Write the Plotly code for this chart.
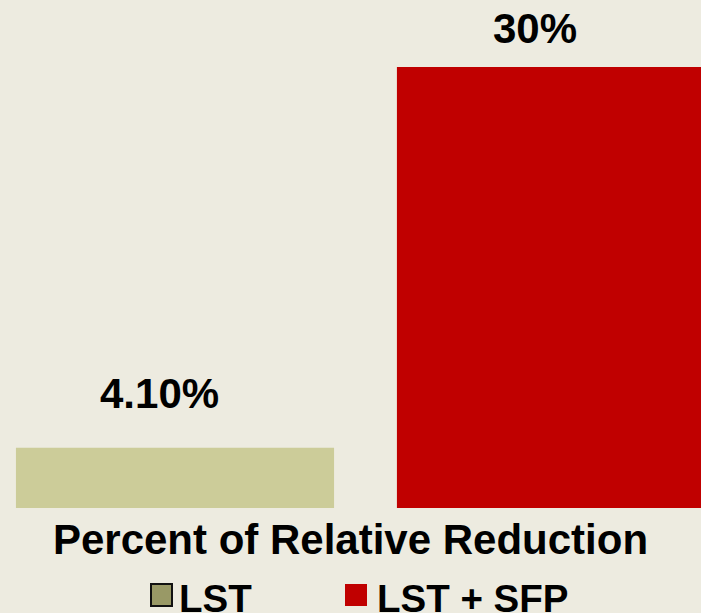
import plotly.graph_objects as go

# Relative reduction by treatment group (percent)
categories = ["LST", "LST + SFP"]
reduction = [4.1, 30.0]
value_labels = ["4.10%", "30%"]

bar_colors = ["#CCCC99", "#C00000"]
legend_colors = ["#999966", "#C00000"]
legend_borders = ["#111111", "#C00000"]
label_offsets = [54, 39]    # pixels above bar top for each value label
label_xshifts = [-15, -21]  # labels sit a little left of bar centres

BG = "#EDEBE0"
FONT = "Arial, Liberation Sans, sans-serif"

W, H = 701, 613
PLOT_H = 508  # plot area height in pixels (bottom margin holds title and key)

fig = go.Figure()

fig.add_trace(go.Bar(
    x=categories,
    y=reduction,
    marker=dict(color=bar_colors, line=dict(width=0)),
    width=0.835,
    showlegend=False,
    hoverinfo="skip",
))

for cat, val, txt, off, dx in zip(categories, reduction, value_labels,
                                  label_offsets, label_xshifts):
    fig.add_annotation(
        x=cat, y=val, text=f"<b>{txt}</b>", showarrow=False,
        yanchor="middle", yshift=off, xshift=dx,
        font=dict(family=FONT, size=42, color="#000000"),
    )

# key below the axis title: swatch + label for each series
def px_x(p):
    return p / W

def px_y(p):
    return (PLOT_H - p) / PLOT_H

key_swatches = [(151, 172), (345, 367)]
key_text_x = [177, 375]
for name, c, b, (x0, x1), tx in zip(categories, legend_colors, legend_borders,
                                    key_swatches, key_text_x):
    fig.add_shape(
        type="rect", xref="paper", yref="paper",
        x0=px_x(x0), x1=px_x(x1), y0=px_y(606), y1=px_y(584),
        fillcolor=c, line=dict(color=b, width=2 if b != c else 0),
    )
    fig.add_annotation(
        xref="paper", yref="paper", x=px_x(tx), y=px_y(598),
        xanchor="left", yanchor="middle", showarrow=False,
        text=f"<b>{name}</b>",
        font=dict(family=FONT, size=38.5, color="#000000"),
    )

fig.update_layout(
    width=W, height=H,
    margin=dict(l=0, r=0, t=0, b=H - PLOT_H, autoexpand=False),
    paper_bgcolor=BG, plot_bgcolor=BG,
    font=dict(family=FONT, color="#000000"),
    showlegend=False,
    xaxis=dict(
        range=[-0.4593, 1.3806], automargin=False,
        showticklabels=False, showgrid=False, zeroline=False, showline=False, ticks="",
        title=dict(text="<b>Percent of Relative Reduction</b>", standoff=16,
                   font=dict(family=FONT, size=42, color="#000000")),
    ),
    yaxis=dict(
        range=[0, 34.56], visible=False, showgrid=False, zeroline=False,
        automargin=False,
    ),
)

fig.write_html("out.html")
